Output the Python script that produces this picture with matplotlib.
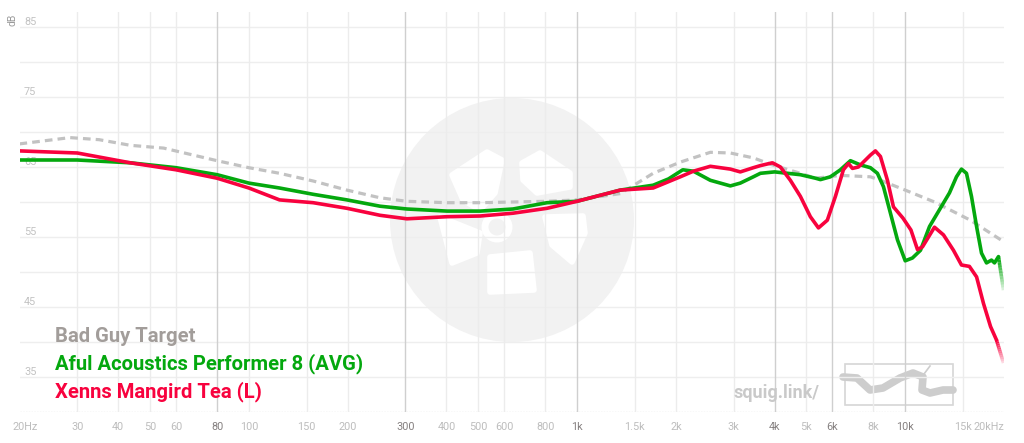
"""
Frequency response plot (squig.link style): Bad Guy Target vs two IEMs
"""

import matplotlib
matplotlib.use("Agg")
import matplotlib.pyplot as plt
import numpy as np
from matplotlib.collections import LineCollection
from matplotlib.patches import Circle, Polygon, Rectangle

# ── Data ─────────────────────────────────────────────────────────────────────
TARGET_HZ = [20, 28.5, 35, 43.5, 55, 80, 100, 124, 157, 199, 251, 303, 402,
             507, 638, 810, 1000, 1354, 1706, 2064, 2548, 2932, 3446, 3938,
             4793, 5327, 6346, 7834, 8404, 10000, 12280, 15800, 20000]
TARGET_DB = [68.3, 69.2, 68.9, 68.1, 67.7, 65.9, 64.9, 64.1, 63.0, 61.7, 60.6,
             60.1, 59.9, 59.9, 60.0, 60.1, 60.3, 61.2, 64.1, 65.7, 67.1, 67.0,
             66.3, 65.3, 64.1, 63.4, 63.8, 63.6, 63.1, 61.7, 60.0, 57.4, 54.3]

GREEN_HZ = [20, 30, 43.5, 60, 80, 100, 124, 157, 199, 251, 303, 402, 507, 638,
            810, 1000, 1354, 1706, 1900, 2100, 2262, 2548, 2932, 3144, 3446,
            3620, 4000, 4793, 5327, 5516, 5917, 6346, 6808, 7304, 7834, 8228,
            8582, 9016, 9470, 10000, 10520, 11130, 11860, 12720, 13640, 14330,
            14840, 15370, 15920, 16500, 17080, 17690, 18320, 18710, 19240, 19930]
GREEN_DB = [66.0, 66.0, 65.6, 64.9, 63.9, 62.7, 62.0, 61.1, 60.3, 59.4, 59.0,
            58.7, 58.7, 59.0, 59.9, 60.1, 61.7, 62.4, 63.3, 64.6, 64.4, 63.1,
            62.3, 62.7, 63.6, 64.1, 64.3, 63.9, 63.4, 63.2, 63.6, 64.6, 65.9,
            65.3, 64.9, 64.1, 62.2, 58.4, 54.6, 51.6, 52.0, 53.1, 56.5, 58.9,
            61.3, 63.6, 64.7, 64.1, 60.8, 56.5, 52.7, 51.3, 51.7, 51.3, 52.2, 47.4]

RED_HZ = [20, 30, 43.5, 60, 80, 100, 124, 157, 199, 251, 303, 402, 507, 638,
          810, 1000, 1354, 1706, 2064, 2262, 2548, 2932, 3144, 3446, 3620, 3938,
          4166, 4467, 4793, 5140, 5441, 5790, 6128, 6480, 6714, 6906, 7200,
          7834, 8112, 8404, 8828, 9208, 9843, 10410, 10900, 11290, 12280,
          13080, 14030, 14840, 15690, 16500, 17320, 18200, 18970, 19930]
RED_DB = [67.3, 67.0, 65.6, 64.6, 63.4, 62.0, 60.3, 59.9, 59.1, 58.1, 57.6,
          57.9, 58.0, 58.4, 59.1, 60.1, 61.7, 62.0, 63.6, 64.4, 65.1, 64.7, 64.3,
          64.9, 65.2, 65.6, 65.0, 63.1, 60.8, 57.9, 56.3, 57.4, 60.8, 64.6, 65.5,
          64.8, 65.0, 66.7, 67.3, 66.5, 63.1, 59.3, 57.7, 56.0, 53.2, 53.6, 56.4,
          55.3, 53.1, 51.0, 50.8, 49.3, 45.5, 42.2, 40.3, 37.0]

SERIES_NAMES = ["Bad Guy Target", "Aful Acoustics Performer 8 (AVG)",
                "Xenns Mangird Tea (L)"]

X_TICKS = [20, 30, 40, 50, 60, 80, 100, 150, 200, 300, 400, 500, 600, 800,
           1000, 1500, 2000, 3000, 4000, 5000, 6000, 8000, 10000, 15000, 20000]
X_LABELS = ["20Hz", "30", "40", "50", "60", "80", "100", "150", "200", "300",
            "400", "500", "600", "800", "1k", "1.5k", "2k", "3k", "4k", "5k",
            "6k", "8k", "10k", "15k", "20kHz"]
STRONG_TICKS = [80, 300, 1000, 4000, 6000, 10000]
Y_LABELS = [85, 75, 65, 55, 45, 35]

# ── Style ────────────────────────────────────────────────────────────────────
GREEN = "#04a80e"
RED = "#f8023e"
TARGET_C = "#c2c2c2"
W, H = 1024, 443
FONT = "Roboto"

fig = plt.figure(figsize=(W / 100, H / 100), dpi=100)

# background layer in pixel coordinates (watermark)
bg = fig.add_axes([0, 0, 1, 1], zorder=0)
bg.set_xlim(0, W)
bg.set_ylim(H, 0)
bg.axis("off")

bg.add_patch(Circle((512, 220), 122, color="#f2f2f2", lw=0))
blades = [
    [(452, 175), (487, 152), (502, 160), (495, 193), (480, 210), (463, 200)],
    [(522, 163), (540, 153), (570, 173), (570, 187), (537, 193), (523, 180)],
    [(545, 217), (583, 216), (585, 233), (572, 262), (552, 245)],
    [(490, 257), (530, 253), (534, 290), (490, 292)],
    [(440, 217), (480, 233), (477, 253), (452, 263)],
]
for b in blades:
    bg.add_patch(Polygon(b, closed=True, fc="white", ec="white", lw=4,
                         joinstyle="round"))
bg.add_patch(Circle((497, 227), 12, fill=False, ec="white", lw=5))

# main plot
ax = fig.add_axes([19.5 / W, 1 - 412 / H, (1004 - 19.5) / W, 400 / H], zorder=1)
ax.patch.set_alpha(0)
ax.set_xscale("log")
ax.set_xlim(20, 20000)
ax.set_ylim(30, 30 + 400 / 7)
for s in ax.spines.values():
    s.set_visible(False)
ax.set_xticks([])
ax.set_yticks([])
ax.minorticks_off()

for db in range(35, 90, 5):
    ax.axhline(db, color="#eeeeee", lw=1, zorder=1)
ax.axhline(30, color="#dddddd", lw=1, ls=(0, (1, 1)), zorder=1)

for f in X_TICKS[1:-1]:
    strong = f in STRONG_TICKS
    ax.axvline(f, color="#cfcfcf" if strong else "#ececec", lw=1, zorder=1)

xt = ax.get_xaxis_transform()
for f, lab in zip(X_TICKS, X_LABELS):
    strong = f in STRONG_TICKS
    ha = "right" if lab == "20kHz" else "center"
    ax.text(f * (1.04 if lab == "20Hz" else 1.0), -0.0375, lab, ha=ha, va="center",
            fontsize=7.8, family=FONT, color="#858080" if strong else "#bdbdbd",
            transform=xt, clip_on=False)

yt = ax.get_yaxis_transform()
for db in Y_LABELS:
    ax.text((24 - 19.5) / (1004 - 19.5), db, str(db), ha="left", va="bottom",
            fontsize=7.8, family=FONT, color="#c2c2c2", transform=yt, clip_on=False)
ax.text(12, 20, "dB", rotation=90, ha="center", va="center", fontsize=7.5,
        family=FONT, color="#9a9a9a", transform=bg.transData)


# ── Curves ───────────────────────────────────────────────────────────────────
def fade_tail(hz, db, color, lw, n=12):
    """draw last segment with fading alpha (like squig.link edge fade)"""
    lx = np.log10(hz[-2:])
    t = np.linspace(0, 1, n + 1)
    xs = 10 ** (lx[0] + (lx[1] - lx[0]) * t)
    ys = db[-2] + (db[-1] - db[-2]) * t
    segs = [[(xs[i], ys[i]), (xs[i + 1], ys[i + 1])] for i in range(n)]
    alphas = np.linspace(1, 0.15, n)
    cols = [matplotlib.colors.to_rgba(color, a) for a in alphas]
    ax.add_collection(LineCollection(segs, colors=cols, linewidths=lw,
                                     capstyle="butt", zorder=4))


ax.plot(TARGET_HZ, TARGET_DB, color=TARGET_C, lw=2.3, ls=(0, (2.4, 1.6)),
        zorder=3, solid_joinstyle="round")
ax.plot(GREEN_HZ[:-1], GREEN_DB[:-1], color=GREEN, lw=2.6, zorder=4,
        solid_joinstyle="round", solid_capstyle="round")
fade_tail(GREEN_HZ, GREEN_DB, GREEN, 2.6)
ax.plot(RED_HZ[:-1], RED_DB[:-1], color=RED, lw=2.6, zorder=5,
        solid_joinstyle="round", solid_capstyle="round")
fade_tail(RED_HZ, RED_DB, RED, 2.6)

# ── Legend (text labels) ─────────────────────────────────────────────────────
for name, col, y in zip(SERIES_NAMES, ["#a29d9a", GREEN, RED], [342, 369, 397]):
    ax.text(55, y, name, color=col, fontsize=14.6, fontweight="bold", family=FONT,
            ha="left", va="baseline", transform=bg.transData, zorder=6)

# ── squig.link watermark ─────────────────────────────────────────────────────
ax.text(776, 398, "squig.link/", color="#c9c9c9", fontsize=13, fontweight="bold",
        family=FONT, ha="center", va="baseline", transform=bg.transData, zorder=2)
bg.add_patch(Rectangle((845, 364), 108, 41, fill=False, ec="#d6d6d6", lw=1.2))
sq_x = [843, 857, 870, 883, 900, 913, 923, 922, 930, 943, 953]
sq_y = [377, 378, 390, 388, 378, 373, 377, 390, 393, 390, 390]
bg.plot(sq_x, sq_y, color="#cdcdcd", lw=5.5, solid_capstyle="round",
        solid_joinstyle="round")
bg.plot([924, 930], [374, 366], color="#cdcdcd", lw=1.2)

fig.savefig("out.png", dpi=100, facecolor="white")
